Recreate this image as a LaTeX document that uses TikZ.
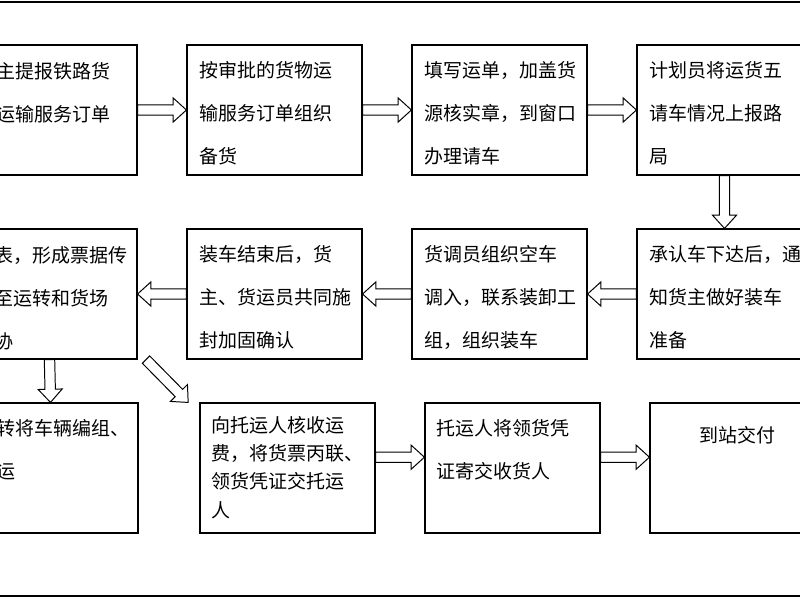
\documentclass[tikz,border=0pt]{standalone}
\usepackage{fontspec}
\setmainfont{Noto Sans CJK SC}
\usetikzlibrary{calc}
\tikzset{
  box/.style={draw, line width=0.8pt, minimum width=4.375cm, minimum height=3.25cm, inner sep=0pt},
  txt/.style={anchor=north west, inner sep=0pt, align=left, font=\fontsize{13.5pt}{30.6pt}\selectfont},
  txtsm/.style={txt, font=\fontsize{13.5pt}{20pt}\selectfont},
}
% hollow block arrow from #1 to #2
\newcommand\fatarrow[2]{%
  \coordinate (fa-h) at ($(#2)!0.33cm!(#1)$);
  \draw[line width=0.7pt] ($(#1)!0.13cm!90:(#2)$) -- ($(fa-h)!0.13cm!90:(#2)$) -- ($(fa-h)!0.3cm!90:(#2)$)
    -- (#2) -- ($(fa-h)!0.3cm!-90:(#2)$) -- ($(fa-h)!0.13cm!-90:(#2)$) -- ($(#1)!0.13cm!-90:(#2)$) -- cycle;%
}
\begin{document}
\begin{tikzpicture}[x=0.025cm, y=-0.025cm]
  \useasboundingbox (0,0) rectangle (800,600);
  \clip (0,0) rectangle (800,600);
  % frame lines
  \draw[line width=1.6pt] (-10,2) -- (810,2);
  \draw[line width=1.6pt] (-10,596) -- (810,596);

  % row 1
  \node[box] (b1) at (49.5,110) {};
  \node[box] (b2) at (274.5,110) {};
  \node[box] (b3) at (499.5,110) {};
  \node[box] (b4) at (724.5,110) {};
  % row 2
  \node[box] (b5) at (49.5,294) {};
  \node[box] (b6) at (274.5,294) {};
  \node[box] (b7) at (499.5,294) {};
  \node[box] (b8) at (724.5,294) {};
  % row 3
  \node[box] (b9) at (50.5,468) {};
  \node[box] (b10) at (287.5,468) {};
  \node[box] (b11) at (512.5,468) {};
  \node[box] (b12) at (737.5,468) {};

  % texts
  \node[txt] (t1) at (-4,62) {主提报铁路货\\运输服务订单};
  \node[txt] (t2) at ([shift={(13,17)}]b2.north west) {按审批的货物运\\输服务订单组织\\备货};
  \node[txt] (t3) at ([shift={(13,17)}]b3.north west) {填写运单，加盖货\\源核实章，到窗口\\办理请车};
  \node[txt] (t4) at ([shift={(13,17)}]b4.north west) {计划员将运货五\\请车情况上报路\\局};
  \node[txt] (t5) at (-6,246) {表，形成票据传\\至运转和货场\\协};
  \node[txt] (t6) at ([shift={(13,17)}]b6.north west) {装车结束后，货\\主、货运员共同施\\封加固确认};
  \node[txt] (t7) at ([shift={(13,17)}]b7.north west) {货调员组织空车\\调入，联系装卸工\\组，组织装车};
  \node[txt] (t8) at ([shift={(13,17)}]b8.north west) {承认车下达后，通\\知货主做好装车\\准备};
  \node[txt] (t9) at (-4,419) {转将车辆编组、\\运};
  \node[txtsm] (t10) at ([shift={(12,14)}]b10.north west) {向托运人核收运\\费，将货票丙联、\\领货凭证交托运\\人};
  \node[txt] (t11) at ([shift={(12,17)}]b11.north west) {托运人将领货凭\\证寄交收货人};
  \node[txt, anchor=north] (t12) at ([yshift=-17]b12.north) {到站交付};

  % arrows
  \fatarrow{b1.east}{b2.west}
  \fatarrow{b2.east}{b3.west}
  \fatarrow{b3.east}{b4.west}
  \fatarrow{b4.south}{b8.north}
  \fatarrow{b8.west}{b7.east}
  \fatarrow{b7.west}{b6.east}
  \fatarrow{b6.west}{b5.east}
  \fatarrow{b5.south}{b9.north}
  \coordinate (d1) at ([xshift=6]b5.south east);
  \coordinate (d2) at ([xshift=-8]b10.north west);
  \fatarrow{d1}{d2}
  \fatarrow{[yshift=0.27cm]b10.east}{[yshift=0.27cm]b11.west}
  \fatarrow{[yshift=0.27cm]b11.east}{[yshift=0.27cm]b12.west}
\end{tikzpicture}
\end{document}
